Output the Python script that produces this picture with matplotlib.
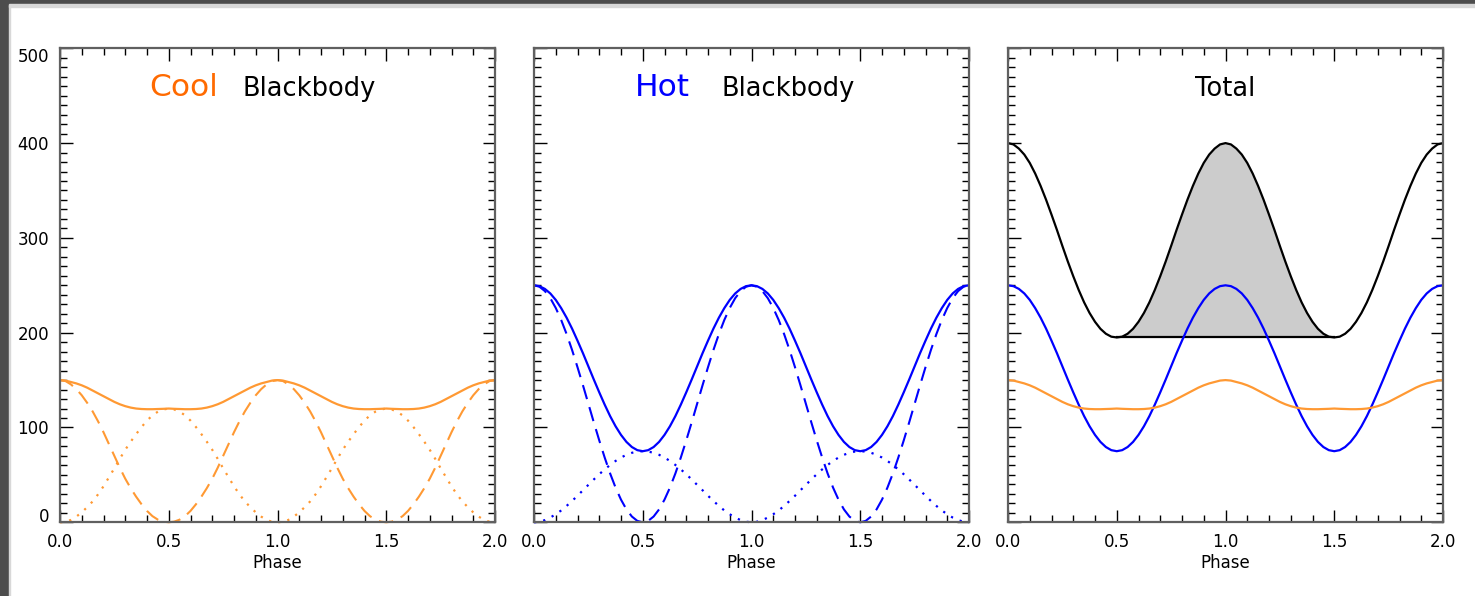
import numpy as np
import matplotlib
matplotlib.use("Agg")
import matplotlib.pyplot as plt
from matplotlib.patches import Rectangle
from matplotlib.ticker import MultipleLocator

# phase grid, one sample every 0.025
phase = [round(0.025 * i, 3) for i in range(81)]

# cool spot facing us (dashed) and the far side (dotted)
cool_near = [150.0, 149.0, 145.5, 140.5, 134.0, 126.0, 117.0, 106.5, 95.0, 82.5,
             70.0, 57.5, 46.0, 36.0, 27.0, 19.0, 12.0, 6.5, 2.8, 0.7,
             0.0, 0.7, 2.8, 6.5, 12.0, 19.0, 27.0, 36.0, 46.0, 57.5,
             70.0, 82.5, 95.0, 106.5, 117.0, 126.0, 134.0, 140.5, 145.5, 149.0,
             150.0, 149.0, 145.5, 140.5, 134.0, 126.0, 117.0, 106.5, 95.0, 82.5,
             70.0, 57.5, 46.0, 36.0, 27.0, 19.0, 12.0, 6.5, 2.8, 0.7,
             0.0, 0.7, 2.8, 6.5, 12.0, 19.0, 27.0, 36.0, 46.0, 57.5,
             70.0, 82.5, 95.0, 106.5, 117.0, 126.0, 134.0, 140.5, 145.5, 149.0,
             150.0]
cool_far = [0.0, 0.5, 2.5, 6.0, 10.5, 16.0, 22.0, 29.5, 38.0, 47.5,
            57.0, 67.0, 76.5, 85.0, 93.0, 100.5, 107.3, 112.8, 116.7, 119.0,
            120.0, 119.0, 116.7, 112.8, 107.3, 100.5, 93.0, 85.0, 76.5, 67.0,
            57.0, 47.5, 38.0, 29.5, 22.0, 16.0, 10.5, 6.0, 2.5, 0.5,
            0.0, 0.5, 2.5, 6.0, 10.5, 16.0, 22.0, 29.5, 38.0, 47.5,
            57.0, 67.0, 76.5, 85.0, 93.0, 100.5, 107.3, 112.8, 116.7, 119.0,
            120.0, 119.0, 116.7, 112.8, 107.3, 100.5, 93.0, 85.0, 76.5, 67.0,
            57.0, 47.5, 38.0, 29.5, 22.0, 16.0, 10.5, 6.0, 2.5, 0.5,
            0.0]

# hot spot, middle panel
hot_near = [250.0, 248.5, 243.9, 236.4, 226.1, 213.4, 198.5, 181.8, 163.6, 144.6,
            125.0, 105.4, 86.4, 68.3, 51.5, 36.6, 23.9, 13.6, 6.1, 1.5,
            0.0, 1.5, 6.1, 13.6, 23.9, 36.6, 51.5, 68.3, 86.4, 105.4,
            125.0, 144.6, 163.6, 181.8, 198.5, 213.4, 226.1, 236.4, 243.9, 248.5,
            250.0, 248.5, 243.9, 236.4, 226.1, 213.4, 198.5, 181.8, 163.6, 144.6,
            125.0, 105.4, 86.4, 68.3, 51.5, 36.6, 23.9, 13.6, 6.1, 1.5,
            0.0, 1.5, 6.1, 13.6, 23.9, 36.6, 51.5, 68.3, 86.4, 105.4,
            125.0, 144.6, 163.6, 181.8, 198.5, 213.4, 226.1, 236.4, 243.9, 248.5,
            250.0]
hot_far = [0.0, 0.6, 2.3, 5.0, 8.5, 12.5, 17.3, 22.5, 28.0, 33.8,
           39.5, 45.2, 50.7, 55.8, 60.5, 64.7, 68.3, 71.2, 73.3, 74.6,
           75.0, 74.6, 73.3, 71.2, 68.3, 64.7, 60.5, 55.8, 50.7, 45.2,
           39.5, 33.8, 28.0, 22.5, 17.3, 12.5, 8.5, 5.0, 2.3, 0.6,
           0.0, 0.6, 2.3, 5.0, 8.5, 12.5, 17.3, 22.5, 28.0, 33.8,
           39.5, 45.2, 50.7, 55.8, 60.5, 64.7, 68.3, 71.2, 73.3, 74.6,
           75.0, 74.6, 73.3, 71.2, 68.3, 64.7, 60.5, 55.8, 50.7, 45.2,
           39.5, 33.8, 28.0, 22.5, 17.3, 12.5, 8.5, 5.0, 2.3, 0.6,
           0.0]

xticks = [0.0, 0.5, 1.0, 1.5, 2.0]
xtick_labels = ["0.0", "0.5", "1.0", "1.5", "2.0"]
yticks = [0, 100, 200, 300, 400, 500]
ytick_labels = ["0", "100", "200", "300", "400", "500"]

ORANGE = "#ff9933"
BLUE = "#0000ff"

x = np.array(phase)
cool_sum = np.array(cool_near) + np.array(cool_far)
hot_sum = np.array(hot_near) + np.array(hot_far)
total = cool_sum + hot_sum

plt.rcParams["font.family"] = "DejaVu Sans"

fig = plt.figure(figsize=(14.75, 5.96), dpi=100)

# screenshot frame
fig.patches.append(Rectangle((0, 0), 8.5 / 1475, 1, transform=fig.transFigure,
                             color="#4d4d4d", zorder=0))
fig.patches.append(Rectangle((0, 1 - 4.5 / 596), 1, 4.5 / 596,
                             transform=fig.transFigure, color="#4d4d4d", zorder=0))
fig.patches.append(Rectangle((8.5 / 1475, 0), 1.5 / 1475, 1 - 4.5 / 596,
                             transform=fig.transFigure, color="#d8d8d8", zorder=0))
fig.patches.append(Rectangle((8.5 / 1475, 1 - 6.5 / 596), 1, 2 / 596,
                             transform=fig.transFigure, color="#d8d8d8", zorder=0))

lefts = [60 / 1475, 534 / 1475, 1008 / 1475]
bottom = (596 - 522.3) / 596
w = 435 / 1475
h = 474 / 596
axes = [fig.add_axes([l, bottom, w, h]) for l in lefts]

for i, ax in enumerate(axes):
    ax.set_xlim(0, 2)
    ax.set_ylim(0, 500)
    ax.set_xticks(xticks)
    ax.set_xticklabels(xtick_labels)
    ax.set_yticks(yticks)
    ax.xaxis.set_minor_locator(MultipleLocator(0.1))
    ax.yaxis.set_minor_locator(MultipleLocator(10))
    ax.tick_params(which="both", direction="in", top=True, right=True,
                   colors="black", width=1.0, labelsize=12, pad=8)
    ax.tick_params(which="major", length=9)
    ax.tick_params(which="minor", length=5)
    if i > 0:
        ax.set_yticklabels([])
    else:
        ax.set_yticklabels(ytick_labels)
        labs = ax.get_yticklabels()
        labs[0].set_va("baseline")
        labs[-1].set_va("top")
    for s in ax.spines.values():
        s.set_color("#606060")
        s.set_linewidth(1.6)
    ax.set_xlabel("Phase", fontsize=12, labelpad=2)

# left: cool blackbody
ax = axes[0]
ax.plot(x, cool_near, color=ORANGE, lw=1.5, ls=(0, (7, 4)), clip_on=False)
ax.plot(x, cool_far, color=ORANGE, lw=1.6, ls=(0, (1, 3.2)), clip_on=False)
ax.plot(x, cool_sum, color=ORANGE, lw=1.6)
ax.text(0.41, 450, "Cool", color="#ff6a00", fontsize=22.5, va="baseline")
ax.text(0.84, 450, "Blackbody", color="black", fontsize=18.5, va="baseline")

# middle: hot blackbody
ax = axes[1]
ax.plot(x, hot_near, color=BLUE, lw=1.5, ls=(0, (7, 4)), clip_on=False)
ax.plot(x, hot_far, color=BLUE, lw=1.6, ls=(0, (1, 3.2)), clip_on=False)
ax.plot(x, hot_sum, color=BLUE, lw=1.6)
ax.text(0.465, 450, "Hot", color=BLUE, fontsize=22.5, va="baseline")
ax.text(0.864, 450, "Blackbody", color="black", fontsize=18.5, va="baseline")

# right: total
ax = axes[2]
base = total.min()
mask = (x >= 0.5) & (x <= 1.5)
ax.fill_between(x[mask], base, total[mask], color="#cccccc", lw=0)
ax.plot([0.5, 1.5], [base, base], color="black", lw=1.6)
ax.plot(x, total, color="black", lw=1.6)
ax.plot(x, hot_sum, color=BLUE, lw=1.6)
ax.plot(x, cool_sum, color=ORANGE, lw=1.6)
ax.text(1.0, 450, "Total", color="black", fontsize=18.5, va="baseline", ha="center")

fig.savefig("out.png", dpi=100)
